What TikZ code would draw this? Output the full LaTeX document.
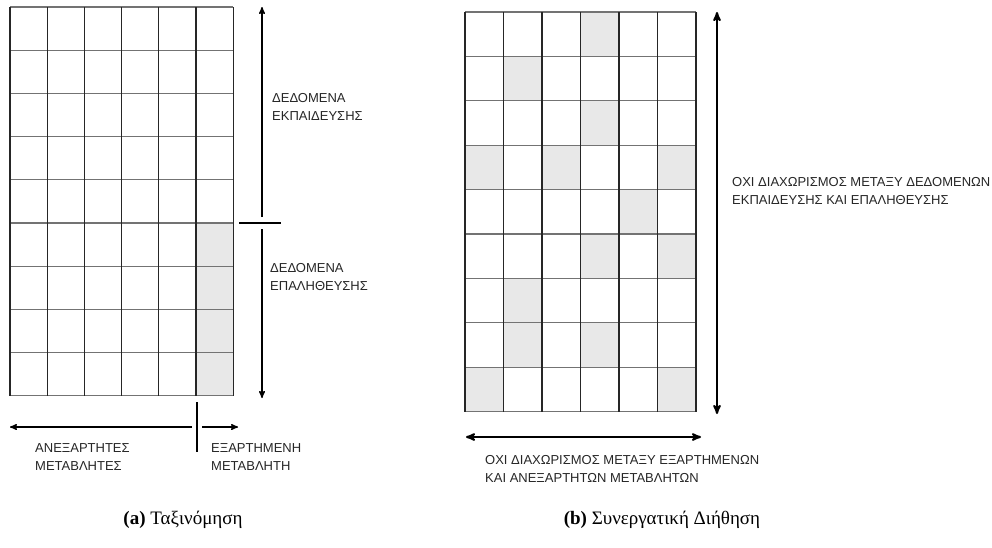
\documentclass[tikz,border=0pt]{standalone}
\usepackage{fontspec}
\setmainfont{Liberation Serif}
\newfontfamily\labelfont{Liberation Sans}
\usepackage{tikz}
\usetikzlibrary{arrows, shapes, positioning}

\begin{document}
\begin{tikzpicture}[x=1pt, y=-1pt, >=stealth',
	cell/.style={fill=black!9, draw=none},
	vline/.style={line width=1.2pt, black!85},
	hline/.style={line width=1.1pt, black!55},
	span/.style={line width=1.4pt},
	lbl/.style={font=\labelfont\fontsize{13}{18}\selectfont, text=black!85, align=left, anchor=west, inner sep=0pt},
	capt/.style={font=\fontsize{19}{22}\selectfont, inner sep=0pt}]
	\useasboundingbox (0,0) rectangle (992,547);

	%grille de gauche
	\begin{scope}[shift={(10,7)}, x=37.2pt, y=-43.2pt]
		\foreach \r in {5,...,8}
			\fill[cell] (5,\r) rectangle (6,\r+1);
		\foreach \j in {0,...,9}
			\draw[hline] (0,\j) -- (6,\j);
		\foreach \i in {0,...,6}
			\draw[vline] (\i,0) -- (\i,9);
	\end{scope}

	%grille de droite
	\begin{scope}[shift={(465,12)}, x=38.5pt, y=-44.4pt]
		\foreach \c/\r in {3/0, 1/1, 3/2, 0/3, 2/3, 5/3, 4/4, 3/5, 5/5, 1/6, 1/7, 3/7, 0/8, 5/8}
			\fill[cell] (\c,\r) rectangle (\c+1,\r+1);
		\foreach \j in {0,...,9}
			\draw[hline] (0,\j) -- (6,\j);
		\foreach \i in {0,...,6}
			\draw[vline] (\i,0) -- (\i,9);
	\end{scope}

	%fleches de gauche
	\coordinate (trtop)	at (262, 7);
	\coordinate (trend)	at (262, 217);
	\coordinate (vabeg)	at (262, 229);
	\coordinate (vaend)	at (262, 398);
	\coordinate (splitl)	at (239, 223);
	\coordinate (splitr)	at (281, 223);
	\draw[->, span] (trend) to (trtop);
	\draw[->, span] (vabeg) to (vaend);
	\draw[span] (splitl) to (splitr);

	\coordinate (indbeg)	at (192, 427);
	\coordinate (indend)	at (10, 427);
	\coordinate (depbeg)	at (202, 427);
	\coordinate (depend)	at (238, 427);
	\coordinate (sepup)	at (197, 402);
	\coordinate (sepdown)	at (197, 452);
	\draw[->, span] (indbeg) to (indend);
	\draw[->, span] (depbeg) to (depend);
	\draw[span] (sepup) to (sepdown);

	\node[lbl] (train)	at (272, 107)	{ΔΕΔΟΜΕΝΑ\\ΕΚΠΑΙΔΕΥΣΗΣ};
	\node[lbl] (valid)	at (270, 277)	{ΔΕΔΟΜΕΝΑ\\ΕΠΑΛΗΘΕΥΣΗΣ};
	\node[lbl] (indep)	at (35, 457)	{ΑΝΕΞΑΡΤΗΤΕΣ\\ΜΕΤΑΒΛΗΤΕΣ};
	\node[lbl] (dep)	at (211, 457)	{ΕΞΑΡΤΗΜΕΝΗ\\ΜΕΤΑΒΛΗΤΗ};

	%fleches de droite
	\coordinate (rtop)	at (717, 12);
	\coordinate (rbot)	at (717, 414);
	\coordinate (rleft)	at (466, 437);
	\coordinate (rright)	at (701, 437);
	\draw[<->, span, line width=2pt] (rtop) to (rbot);
	\draw[<->, span, line width=2pt] (rleft) to (rright);

	\node[lbl] (nodata)	at (732, 191)	{ΟΧΙ ΔΙΑΧΩΡΙΣΜΟΣ ΜΕΤΑΞΥ ΔΕΔΟΜΕΝΩΝ\\ΕΚΠΑΙΔΕΥΣΗΣ ΚΑΙ ΕΠΑΛΗΘΕΥΣΗΣ};
	\node[lbl] (novars)	at (485, 469)	{ΟΧΙ ΔΙΑΧΩΡΙΣΜΟΣ ΜΕΤΑΞΥ ΕΞΑΡΤΗΜΕΝΩΝ\\ΚΑΙ ΑΝΕΞΑΡΤΗΤΩΝ ΜΕΤΑΒΛΗΤΩΝ};

	%legendes
	\node[capt] (capa)	at (183, 520)	{\textbf{(a)} Ταξινόμηση};
	\node[capt] (capb)	at (662, 520)	{\textbf{(b)} Συνεργατική Διήθηση};
\end{tikzpicture}
\end{document}
